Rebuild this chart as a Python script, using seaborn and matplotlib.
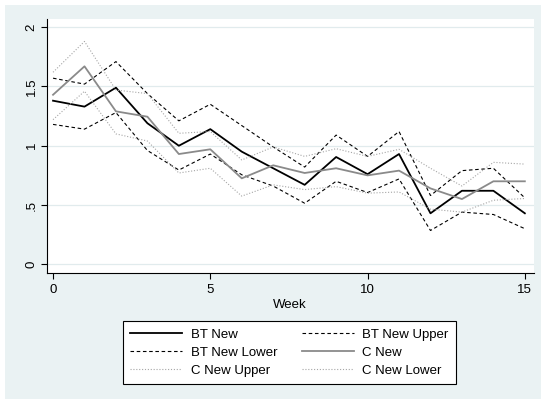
import matplotlib
matplotlib.use("Agg")
import matplotlib.pyplot as plt
from matplotlib.patches import Rectangle
import seaborn as sns
import pandas as pd

# values
weeks = list(range(16))
bt_new = [1.38, 1.33, 1.49, 1.19, 1.00, 1.14, 0.95, 0.81, 0.67, 0.905, 0.76, 0.93, 0.43, 0.62, 0.62, 0.43]
bt_upper = [1.57, 1.52, 1.71, 1.44, 1.21, 1.35, 1.17, 0.99, 0.82, 1.09, 0.91, 1.12, 0.58, 0.79, 0.81, 0.56]
bt_lower = [1.18, 1.14, 1.28, 0.96, 0.795, 0.93, 0.755, 0.66, 0.515, 0.70, 0.605, 0.72, 0.285, 0.44, 0.42, 0.30]
c_new = [1.43, 1.67, 1.29, 1.245, 0.93, 0.97, 0.725, 0.835, 0.77, 0.81, 0.75, 0.79, 0.64, 0.55, 0.70, 0.70]
c_upper = [1.62, 1.88, 1.47, 1.44, 1.105, 1.12, 0.88, 0.99, 0.91, 0.975, 0.91, 0.97, 0.81, 0.66, 0.86, 0.845]
c_lower = [1.22, 1.46, 1.10, 1.04, 0.77, 0.81, 0.575, 0.67, 0.63, 0.655, 0.60, 0.61, 0.465, 0.44, 0.54, 0.555]

series_names = ["BT New", "BT New Upper", "BT New Lower", "C New", "C New Upper", "C New Lower"]
series_values = [bt_new, bt_upper, bt_lower, c_new, c_upper, c_lower]

ytick_vals = [0, 0.5, 1, 1.5, 2]
ytick_labels = ["0", ".5", "1", "1.5", "2"]
xtick_vals = [0, 5, 10, 15]

# long table for seaborn
rows = []
for name, vals in zip(series_names, series_values):
    for w, v in zip(weeks, vals):
        rows.append({"Week": w, "value": v, "series": name})
df = pd.DataFrame(rows)

plt.rcParams["font.family"] = ["Liberation Sans", "DejaVu Sans"]
plt.rcParams["font.size"] = 9.5

palette = {"BT New": "black", "BT New Upper": "black", "BT New Lower": "black",
           "C New": "#8a8a8a", "C New Upper": "#a6a6a6", "C New Lower": "#a6a6a6"}
dashes = {"BT New": "", "BT New Upper": (3.2, 2.4), "BT New Lower": (3.2, 2.4),
          "C New": "", "C New Upper": (1, 1.6), "C New Lower": (1, 1.6)}
sizes = {"BT New": 1.3, "BT New Upper": 0.8, "BT New Lower": 0.8,
         "C New": 1.3, "C New Upper": 0.8, "C New Lower": 0.8}

fig = plt.figure(figsize=(5.41, 3.99), dpi=100)
fig.patch.set_facecolor("white")
fig.add_artist(Rectangle((5 / 541, 0), 536 / 541, 394 / 399, transform=fig.transFigure,
                         facecolor="#eaf2f3", edgecolor="none", zorder=-10))

ax = fig.add_axes([0.086, 0.316, 0.901, 0.636])
ax.set_facecolor("white")

sns.lineplot(data=df, x="Week", y="value", hue="series", style="series", size="series",
             palette=palette, dashes=dashes, sizes=sizes, hue_order=series_names,
             style_order=series_names, size_order=series_names, ax=ax, legend=True)

ax.set_xlim(-0.207, 15.29)
ax.set_ylim(-0.073, 2.068)
ax.set_xticks(xtick_vals)
ax.set_yticks(ytick_vals)
ax.set_yticklabels(ytick_labels, rotation=90, va="center")
ax.set_xlabel("Week", labelpad=2)
ax.set_ylabel("")
ax.yaxis.grid(True, color="#e1ebed", linewidth=0.9)
ax.xaxis.grid(False)
ax.set_axisbelow(True)
for s in ["top", "right"]:
    ax.spines[s].set_visible(False)
for s in ["left", "bottom"]:
    ax.spines[s].set_color("black")
    ax.spines[s].set_linewidth(0.8)
ax.tick_params(axis="both", length=4, width=0.8, color="black", labelcolor="black")
ax.tick_params(axis="x", pad=4)
ax.tick_params(axis="y", pad=2.5)

# legend: two columns, row-major order like the reference
handles, labels = ax.get_legend_handles_labels()
lookup = dict(zip(labels, handles))
order = ["BT New", "BT New Lower", "C New Upper", "BT New Upper", "C New", "C New Lower"]
ax.get_legend().remove()
leg = fig.legend([lookup[k] for k in order], order, ncol=2, loc="upper center",
                 bbox_to_anchor=(0.535, 0.212), frameon=True, fancybox=False,
                 edgecolor="black", framealpha=1, handlelength=3.9, handletextpad=0.66,
                 columnspacing=1.9, labelspacing=0.44, borderpad=0.55)
leg.get_frame().set_linewidth(0.8)

fig.savefig("out.png", dpi=100)
